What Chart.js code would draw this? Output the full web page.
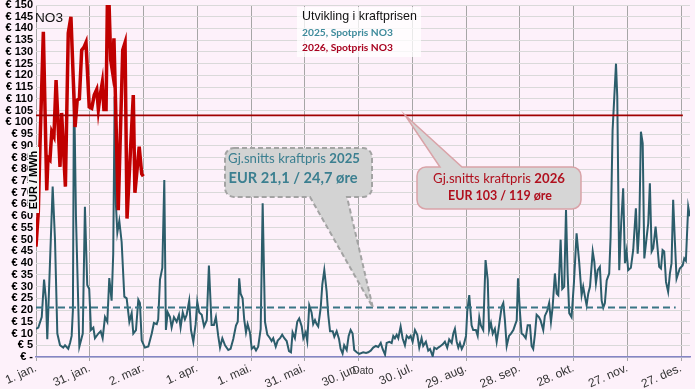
<!DOCTYPE html>
<html><head><meta charset="utf-8">
<script src="https://cdn.jsdelivr.net/npm/chart.js@4.4.1/dist/chart.umd.min.js"></script>
<style>html,body{margin:0;padding:0;background:#fdf1fa;} #wrap{width:695px;height:389px;position:relative;}</style>
</head><body><div id="wrap"><canvas id="c" width="695" height="389"></canvas></div>
<script>
// ---- data ----
const tickDays = [0,30,60,90,120,150,180,210,240,270,300,330,360];
const tickLabels = ["1. jan.","31. jan.","2. mar.","1. apr.","1. mai.","31. mai.","30. jun.","30. jul.","29. aug.","28. sep.","28. okt.","27. nov.","27. des."];
const yMax = 150, yStep = 5;
const avg2025 = 21.1;
const avg2026 = 103;
const avg2025End = 357;
const avg2026End = 361;
// [day of year, EUR/MWh]
const spot2025 = [[0,12],[1.3,12.5],[3.2,17],[4.5,33],[5.6,24],[6.3,7.6],[9.3,72.6],[10.6,50],[11.9,10],[13.4,5],[15.2,4],[16.2,5],[18,3.5],[19,6],[19.9,9],[20.6,20],[21.2,118],[22.3,60],[24.2,4.4],[26.1,10],[27.3,64],[28.6,30.7],[29.7,29],[30.7,11.5],[32,12.5],[32.9,8],[34.8,10],[36.1,11],[37.2,8],[38.5,17],[39.8,15],[40.9,33.6],[42.2,24],[43.1,44],[43.9,111],[44.6,65],[45.4,53],[46.5,58],[47.8,49],[49.3,25.7],[50.6,25],[52.1,15],[53.4,18.7],[54.3,10],[55.8,11.5],[57.1,24.4],[58,23],[59,7],[60.8,4],[62.7,4.5],[64.6,10],[65.8,14.5],[67.4,14],[68.2,16],[69.2,33],[70.5,38],[71.6,75.4],[72.5,11.5],[73.5,19],[74.8,17],[75.7,12.6],[77,17],[78.5,15],[79.8,18],[80.7,12.6],[81.9,19],[83.1,16],[84.1,18],[85.5,24],[86.5,11.5],[87.8,6.5],[89.1,14],[90,23.6],[91.1,19],[92.5,18],[93.8,13],[95.3,15.7],[96.5,39],[98,13.6],[99.3,13.6],[100.4,17],[101.7,9],[102.7,4],[104,8],[105.5,5],[107.3,3],[108.6,3.5],[110.1,7.7],[111.6,13.4],[112.6,15],[113.4,33.5],[114.2,27],[115.3,25],[116.2,16],[117.2,10.5],[118.1,14],[119.4,10.5],[120.4,3.5],[121.7,4.4],[122.8,2.8],[124,4.4],[125.4,12],[126.5,65.5],[127.8,15],[129.1,9.5],[130.6,8],[131.5,6.8],[132.4,8],[133.8,4.4],[134.9,7],[136.2,8],[137.4,9.5],[138.6,8],[139.9,6.8],[141.2,2.5],[142.3,2],[143.2,10.5],[144.5,8],[145.8,15],[146.9,16.4],[148.3,13],[149.2,8],[150.5,10.5],[151.4,6.8],[152.5,22],[153.8,19],[154.7,14],[155.7,15.7],[156.6,14],[157.5,13],[158.9,21],[159.8,31],[160.9,37],[162.2,28],[163.1,18],[164.1,11],[165.6,11],[166.5,8.6],[167.8,11],[169.1,7.7],[170,3.5],[171.1,1.5],[172,5],[173.4,3],[174.5,9],[175.6,11.5],[176.7,10],[177.6,3],[179,2],[180.4,1.3],[182.6,2],[184.2,1.7],[185.4,2],[186.8,2.7],[188.2,4],[189.7,4.7],[191,4.3],[192.4,6],[193.5,3.3],[194.8,1],[195.7,6],[197.2,6.5],[198.5,6],[199.4,9],[200.3,8],[201.3,9.5],[202.2,8],[203.5,13],[204.6,8],[205.9,5],[206.9,9],[208.1,8],[209.1,9],[210.2,6.5],[211.5,11.5],[212.8,9.5],[213.9,4],[215.2,8],[216.1,4.7],[217.6,6.5],[218.9,2.7],[219.9,3.4],[221.4,0.3],[222.3,4],[223.6,3.4],[224.5,4],[225.8,4.7],[227,5.4],[228.2,6.5],[229.5,4],[230.6,7.5],[232,6],[232.9,10],[233.8,12],[234.8,6.5],[235.7,4],[236.6,6],[237.6,3.4],[238.8,5.4],[240,9],[240.7,19.6],[241.8,26.4],[243.1,13.5],[244,11.5],[245.5,11.5],[246.5,9],[247.4,17],[248.3,13.5],[249.6,11.5],[250.9,41.3],[252.1,33],[252.9,11.5],[253.9,14.5],[254.9,10],[256.1,12],[257.1,6.5],[258,11],[258.9,16],[259.9,21.4],[260.8,23],[261.7,15.6],[262.7,4.7],[264,9],[265.1,10],[266.4,11.5],[267.3,13.5],[268.3,15.6],[269,33.5],[270.1,19],[271,10],[271.9,9.5],[273.3,8],[274.4,13.5],[275.7,13.5],[276.6,4.7],[277.5,3.4],[278.5,10],[279.4,18],[280.7,17],[281.6,15.6],[283.1,11.5],[284,17.5],[285.3,19.6],[286.4,23],[287.4,15],[288.3,21],[289.6,35.6],[290.6,27],[291.5,26.3],[292.8,50],[293.7,29],[294.8,30],[295.8,62.6],[296.7,35.6],[297.6,18.7],[298.9,17],[300.2,31.4],[301.7,52.7],[303.2,40],[304.5,26.3],[305.4,30],[306.4,25.6],[307.3,22],[308.2,27],[309.2,30],[310.7,45],[311.6,40.6],[312.5,31.4],[313.5,37],[314.7,38.4],[315.7,24],[316.6,21],[317.5,23],[318.5,32.6],[319.9,35.6],[320.7,51.3],[321.8,96.7],[323.7,125],[324.4,111],[325.5,37],[326.6,57],[327.7,71.9],[328.7,40],[329.6,45],[330.5,37],[332,38],[333.3,45.6],[334.8,63.4],[335.8,44],[336.7,55.6],[337.6,96],[338.6,91],[339.5,42],[340.8,51],[341.7,57],[342.6,74],[343.6,45],[344.5,46.4],[345.8,55.6],[346.9,46.4],[347.8,38.4],[348.8,37.7],[349.7,45.6],[350.6,45],[351.6,32],[352.8,27.8],[353.8,35.6],[354.7,40],[355.6,67],[356.6,48.7],[357.5,33.4],[358.4,35.6],[359.3,37.7],[360.9,39],[361.8,42],[362.7,41],[364,64],[364.9,60]];
const spot2026 = [[0,47],[1.3,62],[2.2,89.6],[4.1,138.6],[6,71],[6.7,85],[7.8,84],[8.8,96],[10,94],[11.2,118],[13.4,81],[14.3,104],[16.4,72.6],[18,138],[19.5,145],[21.8,98],[23,109.5],[24.2,110],[25.5,130.8],[26.8,132],[27.9,134],[29.7,106.6],[31.1,106],[32.5,111.6],[33.9,114],[34.8,105.5],[35.7,111],[37,117],[37.9,105.5],[39.1,105.5],[39.9,155],[40.6,155],[41.7,126.5],[42.6,122],[43.5,135.8],[45.9,62.6],[48.4,130.8],[49.7,134],[50.8,59],[54.3,111.6],[55.2,70],[57.6,89.6],[59,78],[59.9,77]];

const pts = a => a.map(p => ({x:p[0], y:p[1]}));
const BG = '#fdf1fa';
const TEAL = '#2c5d6b';
const RED = '#c00000';
const SANS = '"Liberation Sans", Arial, sans-serif';
const CAL = 'Lato, "Open Sans", sans-serif';

function fitSize(ctx, parts, family, targetW) {
  let s = 20, w = 0;
  parts.forEach(p => { ctx.font = p[1] + ' ' + s + 'px ' + family; w += ctx.measureText(p[0]).width; });
  return s * targetW / w;
}
function drawParts(ctx, parts, family, size, cx, cy, color, align) {
  let total = 0;
  parts.forEach(p => { ctx.font = p[1] + ' ' + size + 'px ' + family; total += ctx.measureText(p[0]).width; });
  let x = align === 'left' ? cx : cx - total / 2;
  ctx.fillStyle = color; ctx.textBaseline = 'middle'; ctx.textAlign = 'left';
  parts.forEach(p => { ctx.font = p[1] + ' ' + size + 'px ' + family; ctx.fillText(p[0], x, cy); x += ctx.measureText(p[0]).width; });
}
function calloutPath(ctx, x0, y0, x1, y1, r, ptr) {
  ctx.beginPath();
  ctx.moveTo(x0 + r, y0);
  if (ptr.side === 'top') { ctx.lineTo(ptr.a, y0); ctx.lineTo(ptr.tx, ptr.ty); ctx.lineTo(ptr.b, y0); }
  ctx.lineTo(x1 - r, y0);
  ctx.arcTo(x1, y0, x1, y0 + r, r);
  ctx.lineTo(x1, y1 - r);
  ctx.arcTo(x1, y1, x1 - r, y1, r);
  if (ptr.side === 'bottom') { ctx.lineTo(ptr.b, y1); ctx.lineTo(ptr.tx, ptr.ty); ctx.lineTo(ptr.a, y1); }
  ctx.lineTo(x0 + r, y1);
  ctx.arcTo(x0, y1, x0, y1 - r, r);
  ctx.lineTo(x0, y0 + r);
  ctx.arcTo(x0, y0, x0 + r, y0, r);
  ctx.closePath();
}

const bgPlugin = {
  id: 'bg',
  beforeDraw(chart) {
    const ctx = chart.ctx; ctx.save(); ctx.fillStyle = BG; ctx.fillRect(0, 0, chart.width, chart.height); ctx.restore();
  }
};
const decoPlugin = {
  id: 'deco',
  afterDraw(chart) {
    const ctx = chart.ctx, xs = chart.scales.x, ys = chart.scales.y;
    ctx.save();
    let s = fitSize(ctx, [['NO3','normal']], SANS, 28);
    drawParts(ctx, [['NO3','normal']], SANS, s, 35, 18, '#111', 'left');
    ctx.fillStyle = 'rgba(255,255,255,0.75)';
    ctx.fillRect(297, 7, 124, 50);
    s = fitSize(ctx, [['Utvikling i kraftprisen','normal']], SANS, 115);
    drawParts(ctx, [['Utvikling i kraftprisen','normal']], SANS, s, 302, 17, '#111', 'left');
    s = fitSize(ctx, [['2025, Spotpris NO3','bold']], CAL, 91);
    drawParts(ctx, [['2025, Spotpris NO3','bold']], CAL, s, 302, 33, '#3f8b9c', 'left');
    drawParts(ctx, [['2026, Spotpris NO3','bold']], CAL, s, 302, 48, '#a8001e', 'left');
    ctx.fillStyle = '#f4f4f4';
    ctx.fillRect(28, 147, 11, 66);
    ctx.translate(34, 180); ctx.rotate(-Math.PI / 2);
    ctx.font = 'bold 11px ' + SANS; ctx.fillStyle = '#000'; ctx.textAlign = 'center'; ctx.textBaseline = 'middle';
    ctx.fillText('EUR / MWh', 0, 0);
    ctx.setTransform(1, 0, 0, 1, 0, 0);
    ctx.font = '10px ' + SANS; ctx.fillStyle = '#333'; ctx.textAlign = 'center';
    ctx.fillText('Dato', 363, 371);
    let tx = xs.getPixelForValue(188), ty = ys.getPixelForValue(avg2025);
    calloutPath(ctx, 225, 148, 372, 197, 9, {side:'bottom', a:310, b:347, tx:tx, ty:ty});
    ctx.fillStyle = '#d3d3d3'; ctx.fill();
    ctx.setLineDash([5, 3]); ctx.lineWidth = 2; ctx.strokeStyle = '#a3a3a3'; ctx.stroke(); ctx.setLineDash([]);
    let l1 = [['Gj.snitts kraftpris ','normal'],['2025','bold']];
    s = fitSize(ctx, l1, CAL, 132);
    drawParts(ctx, l1, CAL, s, 294, 159, '#3b7f90');
    let l2 = [['EUR 21,1 / 24,7 øre','bold']];
    s = fitSize(ctx, l2, CAL, 129);
    drawParts(ctx, l2, CAL, s, 293, 178, '#3b7f90');
    tx = xs.getPixelForValue(206); ty = ys.getPixelForValue(avg2026);
    calloutPath(ctx, 417, 167, 581, 209, 9, {side:'top', a:440, b:462, tx:tx, ty:ty});
    ctx.fillStyle = '#d6d6d6'; ctx.fill();
    ctx.lineWidth = 1.5; ctx.strokeStyle = '#d9a3a8'; ctx.stroke();
    l1 = [['Gj.snitts kraftpris ','normal'],['2026','bold']];
    s = fitSize(ctx, l1, CAL, 132);
    drawParts(ctx, l1, CAL, s, 499, 179, '#b0101e');
    l2 = [['EUR 103 / 119 øre','bold']];
    s = fitSize(ctx, l2, CAL, 104);
    drawParts(ctx, l2, CAL, s, 500, 196, '#b0101e');
    ctx.restore();
  }
};

new Chart(document.getElementById('c'), {
  type: 'line',
  data: {
    datasets: [
      { label: 'snitt 2026', data: pts([[0, avg2026],[avg2026End, avg2026]]), borderColor: '#a00000', borderWidth: 1.8, pointRadius: 0 },
      { label: 'snitt 2025', data: pts([[0, avg2025],[avg2025End, avg2025]]), borderColor: '#3a7585', borderWidth: 2, borderDash: [7,4], pointRadius: 0 },
      { label: '2026, Spotpris NO3', data: pts(spot2026), borderColor: RED, borderWidth: 3.5, pointRadius: 0, tension: 0 },
      { label: '2025, Spotpris NO3', data: pts(spot2025), borderColor: TEAL, borderWidth: 2, pointRadius: 0, tension: 0 }
    ]
  },
  options: {
    responsive: false, animation: false,
    layout: { padding: { top: 5, right: 5, left: 0, bottom: 0 } },
    plugins: { legend: { display: false }, tooltip: { enabled: false } },
    scales: {
      x: {
        type: 'linear', min: 0, max: 365,
        afterBuildTicks: sc => { sc.ticks = tickDays.map(v => ({ value: v })); },
        afterFit: sc => { sc.height = 32; sc.paddingLeft = 0; sc.paddingRight = 0; },
        ticks: { autoSkip: false, minRotation: 24, maxRotation: 24, padding: 0, color: '#333', font: { family: SANS, size: 12 },
          callback: (v) => { const i = tickDays.indexOf(v); return i >= 0 ? tickLabels[i] : ''; } },
        grid: { color: '#a6a6a6', lineWidth: 1, tickLength: 4, drawOnChartArea: true },
        border: { color: '#8585c5', width: 1.5 }
      },
      y: {
        min: 0, max: yMax,
        afterBuildTicks: sc => { const t = []; for (let v = 0; v <= yMax; v += yStep) t.push({ value: v }); sc.ticks = t; },
        afterFit: sc => { sc.width = 36; sc.paddingTop = 0; sc.paddingBottom = 0; },
        ticks: { autoSkip: false, padding: 3, color: '#000', font: { family: SANS, size: 11, weight: 'bold' },
          callback: v => v === 0 ? '€ -' : '€ ' + v },
        grid: { color: '#d9d9d9', drawTicks: false },
        border: { display: false }
      }
    }
  },
  plugins: [bgPlugin, decoPlugin]
});
</script>
</body></html>
